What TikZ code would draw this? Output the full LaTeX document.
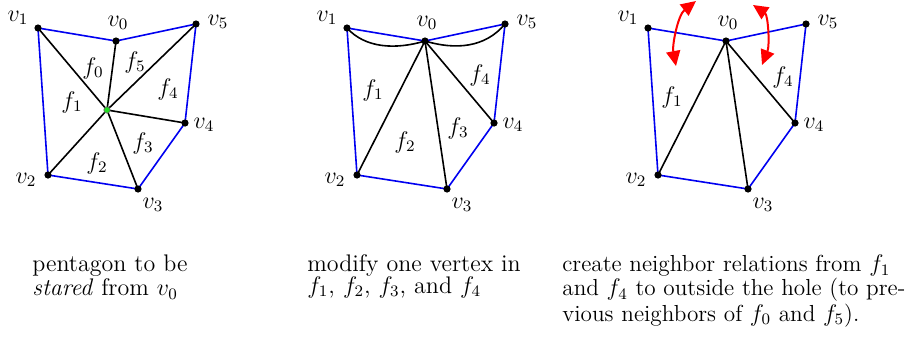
\documentclass[tikz,border=0pt]{standalone}
\usepackage{amsmath,amssymb}
\usepackage{tikz}
\usetikzlibrary{arrows.meta,positioning,backgrounds}
\definecolor{rimblue}{HTML}{0000F0}
\definecolor{hubgreen}{HTML}{22DD22}

\begin{document}
\begin{tikzpicture}[x=0.5pt,y=-0.5pt,
 vtx/.style={circle,fill=black,inner sep=0pt,minimum size=3.6pt},
 hub/.style={circle,fill=hubgreen,draw=black!60,line width=0.3pt,inner sep=0pt,minimum size=3.2pt},
 rim/.style={rimblue,line width=0.8pt,line join=round},
 spoke/.style={black,line width=0.8pt},
 flip/.style={{Triangle[length=7.5pt,width=7pt]}-{Triangle[length=7.5pt,width=7pt]},red,line width=1pt},
 lab/.style={inner sep=0pt,font=\fontsize{12}{14}\selectfont},
 caption/.style={anchor=base west,align=left,inner sep=0pt,text width=170pt,font=\fontsize{12}{10.8}\selectfont}]
\useasboundingbox (0,0) rectangle (916,338);
% the three copies of the pentagon
\foreach \p/\dx in {a/0,b/309,c/610}{
 \foreach \n/\x/\y/\lx/\ly in {1/38/28/-20/-10,0/116/41/2/-18,5/196/24/22/-2,
 4/185/123/19/2,3/138/189/15/16,2/48/175/-22/5}{
 \node[vtx] (\p\n) at (\x+\dx,\y) {};
 \node[lab] (l\p\n) at (\x+\dx+\lx,\y+\ly) {$v_\n$};
 }
}
\node[hub] (hub) at (107,110) {};
\begin{scope}[on background layer]
\foreach \p in {a,b,c}
 \draw[rim] (\p1.center)--(\p0.center)--(\p5.center)--(\p4.center)--(\p3.center)--(\p2.center)--cycle;
\foreach \n in {0,...,5}
 \draw[spoke] (hub.center)--(a\n.center);
\foreach \p in {b,c}
 \foreach \n in {2,3,4}
 \draw[spoke] (\p0.center)--(\p\n.center);
\draw[spoke] (b1.center) .. controls (365,48) and (395,50) .. (b0.center);
\draw[spoke] (b0.center) .. controls (455,50) and (485,48) .. (b5.center);
\end{scope}
% faces
\node[lab] (fa0) at (93,68) {$f_0$};
\node[lab] (fa5) at (135,62) {$f_5$};
\node[lab] (fa4) at (168,89) {$f_4$};
\node[lab] (fa1) at (72,102) {$f_1$};
\node[lab] (fa3) at (143,143) {$f_3$};
\node[lab] (fa2) at (97,163) {$f_2$};
\node[lab] (fb1) at (373,90) {$f_1$};
\node[lab] (fb4) at (480,75) {$f_4$};
\node[lab] (fb2) at (405,142) {$f_2$};
\node[lab] (fb3) at (458,128) {$f_3$};
\node[lab] (fc1) at (672,97) {$f_1$};
\node[lab] (fc4) at (783,77) {$f_4$};
% new neighbour links
\coordinate (nl1) at (676,66);
\coordinate (nl2) at (696,1);
\coordinate (nr1) at (753,5);
\coordinate (nr2) at (762,65);
\draw[flip] (nl1) .. controls (672,45) and (678,15) .. (nl2);
\draw[flip] (nr1) .. controls (768,15) and (770,45) .. (nr2);
% captions
\node[caption] (capa) at (32,271.7) {pentagon to be\\\emph{stared} from $v_0$};
\node[caption] (capb) at (307,271.7) {modify one vertex in\\$f_1$, $f_2$, $f_3$, and $f_4$};
\node[caption,font=\fontsize{11.6}{10.8}\selectfont] (capc) at (562,271.7)
 {\makebox[166pt][s]{create neighbor relations from $f_1$}\\
 \makebox[166pt][s]{and $f_4$ to outside the hole (to pre-}\\
 vious neighbors of $f_0$ and $f_5$).};
\end{tikzpicture}
\end{document}
